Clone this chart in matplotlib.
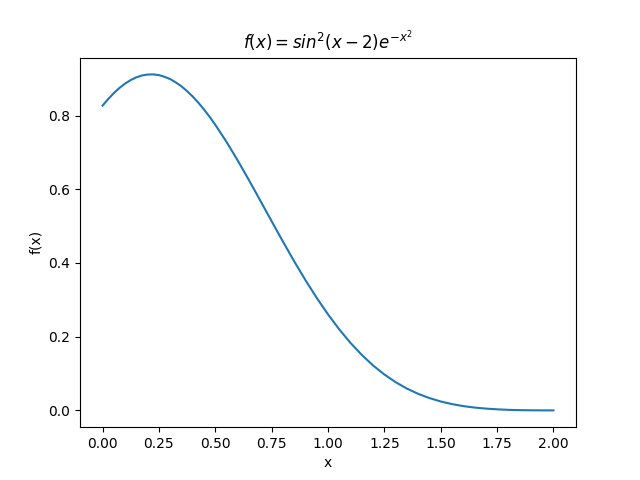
import matplotlib
matplotlib.use("Agg")
import matplotlib.pyplot as plt

# values (finer steps around the peak)
x_vals = [0.000, 0.025, 0.050, 0.075, 0.100, 0.125, 0.150, 0.175, 0.200, 0.225,
          0.250, 0.275, 0.300, 0.325, 0.350, 0.375, 0.400, 0.425, 0.450, 0.475,
          0.50, 0.55, 0.60, 0.65, 0.70, 0.75, 0.80, 0.85, 0.90, 0.95,
          1.00, 1.05, 1.10, 1.15, 1.20, 1.25, 1.30, 1.35, 1.40, 1.45,
          1.50, 1.55, 1.60, 1.65, 1.70, 1.75, 1.80, 1.85, 1.90, 1.95, 2.00]
f_vals = [0.8268, 0.8446, 0.8608, 0.8748, 0.8866, 0.8962, 0.9036, 0.9086, 0.9112, 0.9115,
          0.9096, 0.9050, 0.8988, 0.8897, 0.8792, 0.8660, 0.8514, 0.8347, 0.8164, 0.7963,
          0.7749, 0.7283, 0.6775, 0.6239, 0.5688, 0.5132, 0.4581, 0.4045, 0.3533, 0.3052,
          0.2605, 0.2197, 0.1830, 0.1504, 0.1219, 0.0974, 0.0766, 0.0592, 0.0449, 0.0334,
          0.0242, 0.0171, 0.0117, 0.0077, 0.0049, 0.0029, 0.0015, 0.0007, 0.0003, 0.00006, 0.0]

fig, ax = plt.subplots(figsize=(6.4, 4.8), dpi=100)
ax.plot(x_vals, f_vals)
ax.set_title(r"$f(x) = sin^2(x-2) e^{-x^2}$")
ax.set_xlabel("x")
ax.set_ylabel("f(x)")
fig.savefig("out.png")
